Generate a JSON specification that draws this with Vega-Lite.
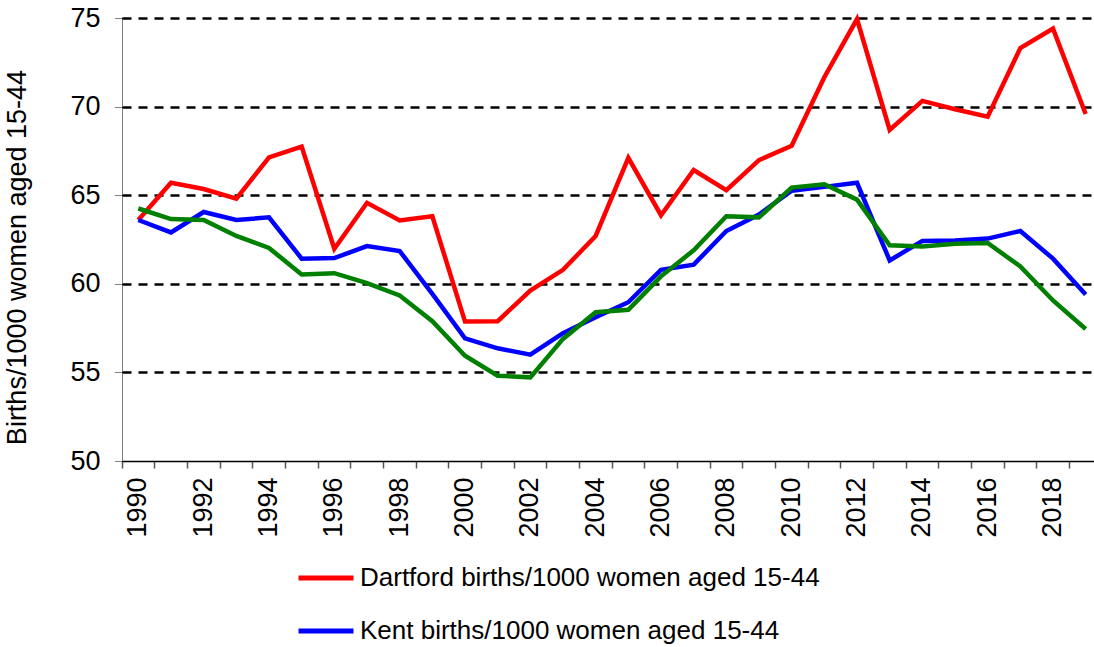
{
  "$schema": "https://vega.github.io/schema/vega-lite/v6.json",
  "autosize": {"type": "none"},
  "padding": {"left": 122, "top": 18, "right": 0, "bottom": 186},
  "width": 972,
  "height": 443,
  "background": "white",
  "config": {
    "font": "Liberation Sans",
    "view": {"stroke": null},
    "axis": {"labelFont": "Liberation Sans", "titleFont": "Liberation Sans", "labelColor": "black", "titleColor": "black"}
  },
  "data": {
    "values": [
      {"year": 1990, "Dartford births/1000 women aged 15-44": 63.6, "Kent births/1000 women aged 15-44": 63.6, "England births/1000 women aged 15-44": 64.25},
      {"year": 1991, "Dartford births/1000 women aged 15-44": 65.7, "Kent births/1000 women aged 15-44": 62.9, "England births/1000 women aged 15-44": 63.65},
      {"year": 1992, "Dartford births/1000 women aged 15-44": 65.35, "Kent births/1000 women aged 15-44": 64.05, "England births/1000 women aged 15-44": 63.6},
      {"year": 1993, "Dartford births/1000 women aged 15-44": 64.8, "Kent births/1000 women aged 15-44": 63.6, "England births/1000 women aged 15-44": 62.7},
      {"year": 1994, "Dartford births/1000 women aged 15-44": 67.13, "Kent births/1000 women aged 15-44": 63.75, "England births/1000 women aged 15-44": 62.02},
      {"year": 1995, "Dartford births/1000 women aged 15-44": 67.74, "Kent births/1000 women aged 15-44": 61.42, "England births/1000 women aged 15-44": 60.53},
      {"year": 1996, "Dartford births/1000 women aged 15-44": 61.98, "Kent births/1000 women aged 15-44": 61.45, "England births/1000 women aged 15-44": 60.6},
      {"year": 1997, "Dartford births/1000 women aged 15-44": 64.57, "Kent births/1000 women aged 15-44": 62.13, "England births/1000 women aged 15-44": 60.04},
      {"year": 1998, "Dartford births/1000 women aged 15-44": 63.58, "Kent births/1000 women aged 15-44": 61.85, "England births/1000 women aged 15-44": 59.34},
      {"year": 1999, "Dartford births/1000 women aged 15-44": 63.81, "Kent births/1000 women aged 15-44": 59.43, "England births/1000 women aged 15-44": 57.89},
      {"year": 2000, "Dartford births/1000 women aged 15-44": 57.87, "Kent births/1000 women aged 15-44": 56.92, "England births/1000 women aged 15-44": 55.94},
      {"year": 2001, "Dartford births/1000 women aged 15-44": 57.89, "Kent births/1000 women aged 15-44": 56.36, "England births/1000 women aged 15-44": 54.81},
      {"year": 2002, "Dartford births/1000 women aged 15-44": 59.62, "Kent births/1000 women aged 15-44": 56.0, "England births/1000 women aged 15-44": 54.72},
      {"year": 2003, "Dartford births/1000 women aged 15-44": 60.79, "Kent births/1000 women aged 15-44": 57.21, "England births/1000 women aged 15-44": 56.89},
      {"year": 2004, "Dartford births/1000 women aged 15-44": 62.7, "Kent births/1000 women aged 15-44": 58.11, "England births/1000 women aged 15-44": 58.4},
      {"year": 2005, "Dartford births/1000 women aged 15-44": 67.11, "Kent births/1000 women aged 15-44": 58.96, "England births/1000 women aged 15-44": 58.53},
      {"year": 2006, "Dartford births/1000 women aged 15-44": 63.87, "Kent births/1000 women aged 15-44": 60.79, "England births/1000 women aged 15-44": 60.42},
      {"year": 2007, "Dartford births/1000 women aged 15-44": 66.42, "Kent births/1000 women aged 15-44": 61.08, "England births/1000 women aged 15-44": 61.89},
      {"year": 2008, "Dartford births/1000 women aged 15-44": 65.28, "Kent births/1000 women aged 15-44": 62.98, "England births/1000 women aged 15-44": 63.81},
      {"year": 2009, "Dartford births/1000 women aged 15-44": 66.98, "Kent births/1000 women aged 15-44": 63.91, "England births/1000 women aged 15-44": 63.75},
      {"year": 2010, "Dartford births/1000 women aged 15-44": 67.79, "Kent births/1000 women aged 15-44": 65.25, "England births/1000 women aged 15-44": 65.43},
      {"year": 2011, "Dartford births/1000 women aged 15-44": 71.66, "Kent births/1000 women aged 15-44": 65.47, "England births/1000 women aged 15-44": 65.62},
      {"year": 2012, "Dartford births/1000 women aged 15-44": 74.94, "Kent births/1000 women aged 15-44": 65.7, "England births/1000 women aged 15-44": 64.75},
      {"year": 2013, "Dartford births/1000 women aged 15-44": 68.68, "Kent births/1000 women aged 15-44": 61.32, "England births/1000 women aged 15-44": 62.17},
      {"year": 2014, "Dartford births/1000 women aged 15-44": 70.32, "Kent births/1000 women aged 15-44": 62.42, "England births/1000 women aged 15-44": 62.11},
      {"year": 2015, "Dartford births/1000 women aged 15-44": 69.85, "Kent births/1000 women aged 15-44": 62.45, "England births/1000 women aged 15-44": 62.26},
      {"year": 2016, "Dartford births/1000 women aged 15-44": 69.43, "Kent births/1000 women aged 15-44": 62.55, "England births/1000 women aged 15-44": 62.3},
      {"year": 2017, "Dartford births/1000 women aged 15-44": 73.3, "Kent births/1000 women aged 15-44": 62.98, "England births/1000 women aged 15-44": 60.98},
      {"year": 2018, "Dartford births/1000 women aged 15-44": 74.4, "Kent births/1000 women aged 15-44": 61.42, "England births/1000 women aged 15-44": 59.06},
      {"year": 2019, "Dartford births/1000 women aged 15-44": 69.58, "Kent births/1000 women aged 15-44": 59.4, "England births/1000 women aged 15-44": 57.45}
    ]
  },
  "transform": [
    {"fold": ["Dartford births/1000 women aged 15-44", "Kent births/1000 women aged 15-44", "England births/1000 women aged 15-44"], "as": ["series", "rate"]}
  ],
  "mark": {"type": "line", "strokeWidth": 4.5},
  "encoding": {
    "x": {
      "field": "year",
      "type": "ordinal",
      "scale": {"type": "band", "paddingInner": 0, "paddingOuter": 0, "range": [0, 980]},
      "axis": {
        "title": null,
        "bandPosition": 0,
        "labelAngle": 270,
        "labelFontSize": 27,
        "labelPadding": 9,
        "labelOverlap": false,
        "labelBound": false,
        "labelExpr": "datum.value % 2 == 0 ? datum.label : ''",
        "tickSize": 7,
        "tickColor": "#555555",
        "tickWidth": 1.5,
        "domainColor": "black",
        "domainWidth": 1.5,
        "grid": false
      }
    },
    "y": {
      "field": "rate",
      "type": "quantitative",
      "scale": {"domain": [50, 75], "nice": false, "zero": false},
      "axis": {
        "title": "Births/1000 women aged 15-44",
        "titleFontSize": 27,
        "titleFontWeight": "normal",
        "titlePadding": 38,
        "titleY": 239,
        "values": [50, 55, 60, 65, 70, 75],
        "labelFontSize": 27,
        "labelPadding": 15,
        "tickSize": 7,
        "tickColor": "black",
        "tickDash": [1, 1],
        "domainColor": "black",
        "domainDash": [1, 1],
        "domainWidth": 1,
        "grid": true,
        "gridColor": "black",
        "gridWidth": 2.5,
        "gridDash": [9, 7],
        "gridOpacity": {"condition": {"test": "datum.value == 50", "value": 0}, "value": 1}
      }
    },
    "color": {
      "field": "series",
      "type": "nominal",
      "sort": ["Dartford births/1000 women aged 15-44", "Kent births/1000 women aged 15-44", "England births/1000 women aged 15-44"],
      "scale": {
        "domain": ["Dartford births/1000 women aged 15-44", "Kent births/1000 women aged 15-44", "England births/1000 women aged 15-44"],
        "range": ["#FF0000", "#0000FF", "#008000"]
      },
      "legend": {
        "title": null,
        "orient": "none",
        "legendX": 174,
        "legendY": 530,
        "direction": "vertical",
        "values": ["Dartford births/1000 women aged 15-44", "Kent births/1000 women aged 15-44"],
        "symbolType": "stroke",
        "symbolSize": 3025,
        "symbolStrokeWidth": 5,
        "labelFontSize": 26,
        "labelFont": "Liberation Sans",
        "labelColor": "black",
        "labelLimit": 0,
        "labelOffset": 4,
        "rowPadding": 10
      }
    }
  }
}
